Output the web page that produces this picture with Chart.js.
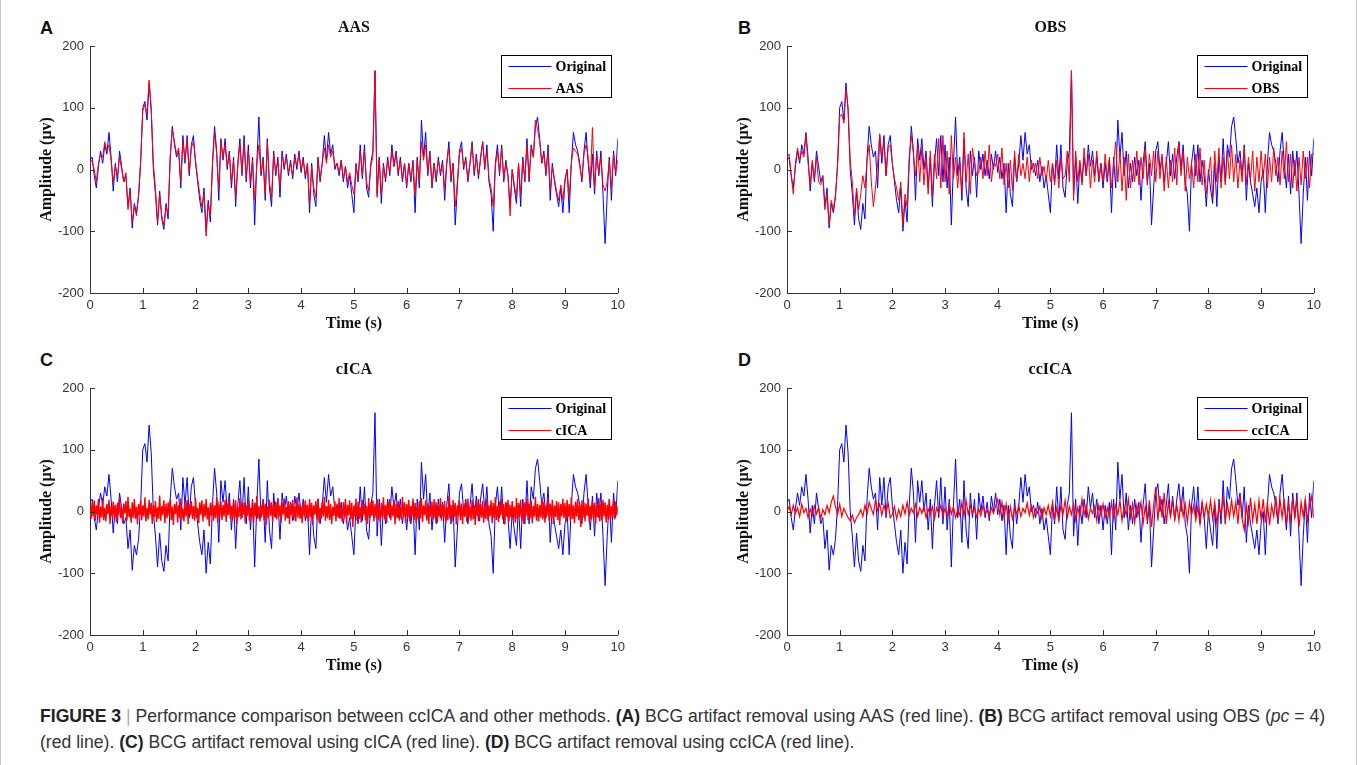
<!DOCTYPE html>
<html><head><meta charset="utf-8">
<script src="https://cdn.jsdelivr.net/npm/chart.js@4.4.1/dist/chart.umd.min.js"></script>
<style>
body{margin:0;width:1357px;height:765px;background:#fff;position:relative;overflow:hidden;font-family:"Liberation Sans",Arial,sans-serif;}
.frame{position:absolute;left:0;top:-2px;width:1355px;height:767px;border:1px solid #c8c8c8;}
canvas{position:absolute;}
.letter{position:absolute;font:bold 18px "Liberation Sans",Arial,sans-serif;color:#111;line-height:18px;}
.cap{position:absolute;left:40px;font-size:17.6px;color:#333;white-space:nowrap;line-height:20px;}
.cap b{color:#222;}
</style></head><body>
<div class="frame"></div>
<div class="letter" style="left:40px;top:19px">A</div>
<div class="letter" style="left:738px;top:19px">B</div>
<div class="letter" style="left:40px;top:351px">C</div>
<div class="letter" style="left:738px;top:351px">D</div>
<canvas id="cA" width="600" height="330" style="left:30px;top:10px"></canvas>
<canvas id="cB" width="599" height="330" style="left:727px;top:10px"></canvas>
<canvas id="cC" width="600" height="330" style="left:30px;top:352px"></canvas>
<canvas id="cD" width="599" height="330" style="left:727px;top:352px"></canvas>
<div class="cap" style="top:706px"><b>FIGURE 3</b> <span style="color:#aaa">|</span> Performance comparison between ccICA and other methods. <b>(A)</b> BCG artifact removal using AAS (red line). <b>(B)</b> BCG artifact removal using OBS (<i>pc</i> = 4)</div>
<div class="cap" style="top:732px">(red line). <b>(C)</b> BCG artifact removal using cICA (red line). <b>(D)</b> BCG artifact removal using ccICA (red line).</div>
<script>
// ---- data (µV), sampled uniformly over 0–10 s ----
const xTicks = [0,1,2,3,4,5,6,7,8,9,10];
const yTicks = [-200,-100,0,100,200];
const panelTitles = ['AAS','OBS','cICA','ccICA'];

const original = [
 15,20,-10,-30,5,30,10,40,25,60,20,-35,10,-20,30,5,-20,-10,-60,-30,-95,-55,-70,-45,10,
 100,110,80,140,95,0,-40,-90,-35,-80,-97,-55,-80,20,70,40,20,30,-30,55,10,55,-10,40,55,
 10,-20,-50,-70,-30,-100,-50,-85,10,70,30,-50,50,15,50,0,30,-30,20,-60,10,50,-10,55,-20,
 40,-30,20,-90,10,85,-10,20,-50,50,-30,-60,30,-10,20,-45,30,0,25,-10,15,-15,25,0,30,
 -5,20,-15,10,-70,10,-40,-60,20,-20,10,55,15,60,25,40,0,10,-10,15,-20,5,-30,-10,-40,
 -70,10,-20,40,-15,40,-30,-45,10,30,160,-40,20,-55,10,-20,20,-10,40,5,30,-10,20,-20,10,
 -30,10,-20,15,-70,20,-30,80,20,60,-10,30,-30,10,-20,20,-10,15,-50,10,45,-20,10,-90,-30,
 30,45,0,20,-20,10,45,-10,25,-15,20,45,0,40,-20,-40,-100,10,40,-10,40,-20,15,-10,-60,
 0,-30,-55,10,-60,20,-20,50,-20,40,20,70,85,50,10,30,-10,40,-50,10,-20,-40,-60,-30,-70,
 -20,0,-70,10,60,40,30,10,-20,30,60,10,-30,25,-40,30,-10,30,-40,-120,-40,20,-50,30,-10,
 50];

const aas = [
 10,15,0,-20,10,25,20,45,30,40,15,-20,5,-10,20,0,-20,-5,-65,-35,-85,-60,-75,-40,15,
 95,105,90,145,100,10,-30,-85,-40,-75,-90,-60,-70,20,65,45,25,35,-20,45,15,50,-5,35,45,
 15,-15,-40,-60,-40,-108,-55,-75,5,60,25,-30,45,20,40,5,25,-20,15,-45,5,40,-5,45,-15,
 30,-20,15,-50,5,40,-5,15,-40,45,-20,-45,25,-5,15,-30,25,5,20,-5,10,-10,20,5,25,
 0,15,-10,10,-55,5,-30,-45,15,-15,10,35,10,40,20,30,5,10,-5,15,-15,5,-20,-5,-25,
 -40,5,-15,30,-10,30,-20,-35,5,20,160,-45,15,-40,5,-15,15,-5,30,5,25,-5,15,-15,10,
 -25,10,-15,10,-40,15,-20,45,15,40,-5,25,-25,10,-15,15,-5,10,-30,10,35,-15,10,-60,-20,
 25,35,5,15,-15,10,40,-5,20,-10,15,45,5,30,-15,-30,-60,5,30,-5,35,-15,10,-10,-75,
 0,-25,-45,10,-40,15,-15,40,-15,35,20,80,65,45,10,25,-5,30,-35,5,-15,-35,-50,-25,-50,
 -15,0,-45,10,35,30,25,5,-15,25,40,20,-20,68,-30,25,-5,20,-25,-35,-20,15,-30,25,-5,
 15];

const obs = [
 20,25,-10,-40,10,35,15,30,20,55,10,-25,15,-15,20,-20,-25,-10,-65,-40,-90,-50,-65,-40,5,
 85,90,75,130,100,15,-20,-75,-30,-65,-40,-10,-30,15,40,-20,-60,-30,10,58,20,45,-10,35,40,
 10,-15,-30,-50,-20,-90,-40,-60,20,55,25,-10,40,-20,35,-25,20,-40,30,-45,25,-15,50,-30,55,
 -20,30,-40,55,-15,20,-30,10,-35,60,-20,25,-40,35,10,-10,-5,20,-15,30,-10,40,-20,10,5,
 25,-15,35,-25,10,-30,15,-35,30,-20,25,-10,10,-15,20,-20,15,-5,10,-15,20,-10,5,-20,15,
 -20,10,-25,15,-30,20,-15,-10,30,-20,160,-50,30,-20,15,-25,35,-10,25,-30,15,-20,30,-15,10,
 -20,25,-15,20,-30,10,45,-20,30,-35,20,-50,25,-30,15,-20,30,-25,20,-15,35,-25,25,-10,30,
 -20,30,-15,25,-35,20,-30,15,-20,35,-25,45,-10,30,-35,20,-15,10,-30,25,-20,35,-25,15,-40,
 -10,20,-45,30,-20,35,-30,20,-25,30,-15,40,-20,25,-30,15,-20,35,-25,20,-15,30,-35,20,-20,
 30,-15,25,-30,20,-20,35,-10,20,-25,30,-15,45,-20,25,-30,15,-35,20,-25,30,-15,20,-30,25,
 25];

const cica = [
 5,-12,15,-8,18,-15,10,-5,20,-18,8,-10,22,-14,6,-16,12,-4,19,-20,9,-7,16,-13,11,
 -17,14,-6,21,-11,7,-19,13,-3,17,-15,24,-9,5,-18,15,-10,20,-12,8,-21,12,-6,18,-14,
 10,-8,23,-16,6,-13,19,-5,14,-20,11,-9,17,-17,7,-12,26,-15,9,-6,18,-19,13,-11,15,
 -7,20,-14,8,-22,12,-4,16,-18,10,-10,21,-13,5,-16,14,-8,19,-20,11,-6,17,-12,9,-15,
 22,-11,6,-19,15,-5,18,-16,12,-9,20,-13,7,-24,14,-7,17,-15,10,-11,23,-18,8,-4,16,
 -14,11,-8,19,-17,13,-6,21,-12,9,-15,16,-10,18,-20,7,-9,22,-13,12,-5,15,-18,10,-7,
 20,-15,6,-11,17,-19,14,-8,25,-12,9,-16,11,-6,18,-14,13,-21,8,-10,19,-7,15,-17,12,
 -9,16,-13,22,-8,10,-18,14,-5,21,-15,7,-11,17,-20,12,-6,19,-14,9,-16,23,-10,13,-12,
 8,-19,15,-7,18,-11,11,-16,20,-9,14,-22,10,-5,17,-13,21,-18,6,-12,16,-8,24,-15,9,
 -11,19,-14,12,-20,8,-7,17,-16,13,-10,22,-12,6,-17,15,-9,20,-19,11,-6,18,-13,14,-25,
 10,-8,21,-15,16,-12,7,-18,19,-6,13,-14,9,-20,22,-11,15,-7,18,-16,12,-10,20,-13,8,
 -17,14,-9,23,-12,11,-19,16,-6,20,-14,10,-8,18,-21,13,-11,17,-15,7,-13,24,-9,15,-18,
 12,-10,19,-16,9,-7,21,-14,14,-19,8,-12,17,-11,22,-17,10,-6,18,-15,13,-20,11,-8,16,
 -13,20,-11,15,-18,9,-8,22,-15,12,-10,17,-19,7,-14,25,-12,11,-16,19,-9,14,-21,10,-7,
 18,-14,13,-20,11,-9,16,-17,21,-11,8,-15,19,-13,10,-22,15,-7,20,-16,12,-10,17,-18,9,
 -12,21,-15,10,-8,18,-19,14,-11,23,-14,9,-17,16,-6,20,-13,12,-21,15,-9,19,-16,11,-10,
 17,-13,8,-18,22,-12,14,-9,19,-16,10,-20,15,-7,21,-14,13,-11,18,-19,9,-8,24,-15,12,
 -16,11,-10,20,-13,16,-18,9,-7,22,-15,13,-12,19,-20,10,-9,17,-14,15,-22,12,-8,21,-11,
 14,-17,19,-9,12,-15,23,-12,10,-19,16,-8,20,-14,11,-25,18,-10,15,-16,13,-7,21,-18,9,
 -13,17,-11,14,-20,10,-9,22,-16,12,-14,19,-8,15,-18,11,-12,20,-15,9,-10,18,-13,16,-6,
 8];

const ccica = [
 0,8,-5,10,-3,6,-8,12,-2,5,-10,4,-6,9,-4,7,-12,3,-5,10,-2,15,25,8,-5,
 12,-8,5,-3,-10,-15,-6,-18,-10,-5,3,-8,10,-4,15,5,-5,18,2,12,-6,10,-2,14,-10,
 -5,8,-12,3,-8,10,-4,15,-6,5,-2,12,-8,6,-3,9,-10,4,-5,8,-12,6,-3,10,-7,
 5,-9,12,-4,8,-10,3,-6,14,-8,18,-5,10,-3,6,-9,4,-7,10,-5,2,-8,6,-3,9,
 20,-5,15,-10,12,-15,8,-12,6,-4,10,-8,5,-2,14,-6,9,-10,4,-3,8,-12,6,-5,10,
 -8,15,-12,6,-15,10,-4,18,-10,8,-5,12,-14,6,-8,20,-6,10,-12,5,-3,8,-15,10,-6,
 12,-10,6,-8,15,-12,10,-5,18,-15,8,-6,20,-10,12,-18,10,-5,15,-20,8,-12,18,-25,10,
 40,-15,25,-10,30,-20,15,-8,18,-12,10,-15,20,-8,12,-18,15,-6,10,-14,8,-20,15,-10,12,
 -8,18,-12,15,-20,10,-5,22,-15,12,-10,18,-8,15,-20,25,-12,-30,10,-18,22,-15,12,-20,18,
 -12,20,-18,15,-22,10,-8,25,-15,18,-10,20,-20,12,-15,22,-10,18,-25,15,-8,20,-15,10,25,
 -10];

const panelMethods = [aas, obs, cica, ccica];
const methodWidths = [1, 1, 1.4, 1.2];
const T0 = 0, T1 = 10;

function toPoints(arr){
  const n = arr.length;
  return arr.map((v,i)=>({x: T0 + (T1-T0)*i/(n-1), y: v}));
}

const serif = '"Liberation Serif","Times New Roman",serif';
const sans = '"Liberation Sans",Arial,sans-serif';

const decorPlugin = {
  id:'decor',
  afterDraw(chart){
    const {ctx, chartArea:a, scales} = chart;
    ctx.save();
    ctx.strokeStyle = '#333'; ctx.lineWidth = 1;
    ctx.beginPath();
    scales.x.ticks.forEach(t=>{
      const px = Math.round(scales.x.getPixelForValue(t.value))+0.5;
      ctx.moveTo(px, a.bottom); ctx.lineTo(px, a.bottom-5);
    });
    scales.y.ticks.forEach(t=>{
      const py = Math.round(scales.y.getPixelForValue(t.value))+0.5;
      ctx.moveTo(a.left, py); ctx.lineTo(a.left+5, py);
    });
    ctx.stroke();
    const title = chart.options.plugins.decor.title;
    ctx.fillStyle = '#111';
    ctx.font = 'bold 16px ' + serif;
    ctx.textAlign = 'center'; ctx.textBaseline = 'middle';
    ctx.fillText(title, (a.left+a.right)/2, a.top - 18);
    const w = 110, h = 42;
    const lx = Math.round(a.right - 117) + 0.5, ly = Math.round(a.top + 9) + 0.5;
    ctx.fillStyle = '#fff'; ctx.fillRect(lx, ly, w, h);
    ctx.strokeStyle = '#000'; ctx.strokeRect(lx, ly, w, h);
    ctx.font = 'bold 14px ' + serif;
    ctx.textAlign = 'left';
    chart.data.datasets.forEach((ds, i)=>{
      const yy = Math.round(ly + 10 + i*22) + 0.5;
      ctx.strokeStyle = ds.borderColor; ctx.lineWidth = 1;
      ctx.beginPath(); ctx.moveTo(lx+7, yy); ctx.lineTo(lx+50, yy); ctx.stroke();
      ctx.fillStyle = '#000';
      ctx.fillText(ds.label, lx+54, yy+1);
    });
    ctx.restore();
  }
};

function makeChart(id, idx){
  const ctx = document.getElementById(id);
  new Chart(ctx, {
    type:'line',
    data:{datasets:[
      {label:'Original', data: toPoints(original), borderColor:'#0000ff', borderWidth:1, pointRadius:0, order:1},
      {label: panelTitles[idx], data: toPoints(panelMethods[idx]), borderColor:'#ff0000', borderWidth:methodWidths[idx], pointRadius:0, order:0}
    ]},
    options:{
      responsive:false, animation:false, events:[],
      layout:{padding:{top:36,right:10,left:0,bottom:0}},
      elements:{line:{tension:0}},
      plugins:{legend:{display:false}, tooltip:{enabled:false}, decor:{title: panelTitles[idx]}},
      scales:{
        x:{type:'linear', min:xTicks[0], max:xTicks[xTicks.length-1],
           afterBuildTicks(s){ s.ticks = xTicks.map(v=>({value:v})); },
           afterFit(s){ s.height = 47; },
           grid:{display:false, drawTicks:false},
           border:{display:true, color:'#333', width:1},
           ticks:{autoSkip:false, maxRotation:0, padding:5, color:'#333', font:{family:sans, size:13}},
           title:{display:true, text:'Time (s)', color:'#111', font:{family:serif, size:16, weight:'bold'}, padding:{top:0,bottom:7}}},
        y:{type:'linear', min:yTicks[0], max:yTicks[yTicks.length-1],
           afterBuildTicks(s){ s.ticks = yTicks.map(v=>({value:v})); },
           afterFit(s){ s.width = 60; },
           grid:{display:false, drawTicks:false},
           border:{display:true, color:'#333', width:1},
           ticks:{padding:6, color:'#333', font:{family:sans, size:13}},
           title:{display:true, text:'Amplitude (μv)', color:'#111', font:{family:serif, size:16, weight:'bold'}, padding:{top:7,bottom:0}}}
      }
    },
    plugins:[decorPlugin]
  });
}
makeChart('cA',0); makeChart('cB',1); makeChart('cC',2); makeChart('cD',3);
</script>
</body></html>
